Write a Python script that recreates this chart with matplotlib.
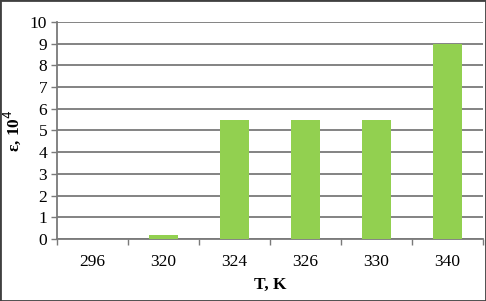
import matplotlib
matplotlib.use("Agg")
import matplotlib.pyplot as plt
import numpy as np

categories = ["296", "320", "324", "326", "330", "340"]
values = [0.0, 0.2, 5.5, 5.5, 5.5, 9.0]

plt.rcParams['font.family'] = ['Liberation Serif', 'DejaVu Serif']

fig = plt.figure(figsize=(4.86, 3.01), dpi=100)
ax = fig.add_axes([0.117, 0.206, 0.877, 0.721])
x = np.arange(len(categories))
ax.bar(x, values, width=0.41, color="#92D050", zorder=3)
ax.set_xlim(-0.5, len(categories) - 0.5)
ax.set_ylim(0, 10)
ax.set_yticks(range(0, 11))
ax.yaxis.grid(True, color="#7a7a7a", linewidth=1.3, zorder=0)
ax.set_xticks(x)
ax.set_xticklabels(categories)
ax.set_xticks(np.arange(-0.5, len(categories), 1.0), minor=True)
ax.tick_params(axis='x', which='major', length=0, pad=11, labelsize=12.5)
ax.tick_params(axis='x', which='minor', length=4, width=1, color="#7a7a7a", direction='out')
ax.tick_params(axis='y', length=4, width=1, color="#7a7a7a", labelsize=12.5, pad=3)
for s in ['top', 'right']:
    ax.spines[s].set_visible(False)
for s in ['left', 'bottom']:
    ax.spines[s].set_color("#7a7a7a")
    ax.spines[s].set_linewidth(1.3)
ax.set_xlabel("T, K", fontweight='bold', fontsize=12.5, labelpad=5)
ax.set_ylabel("ε, 10$^4$", fontweight='bold', fontsize=12.5, labelpad=5)
fig.patches.append(plt.Rectangle((0, 0), 1, 1, transform=fig.transFigure,
                                 fill=False, edgecolor="#404040", linewidth=2))
fig.savefig("out.png", dpi=100)
